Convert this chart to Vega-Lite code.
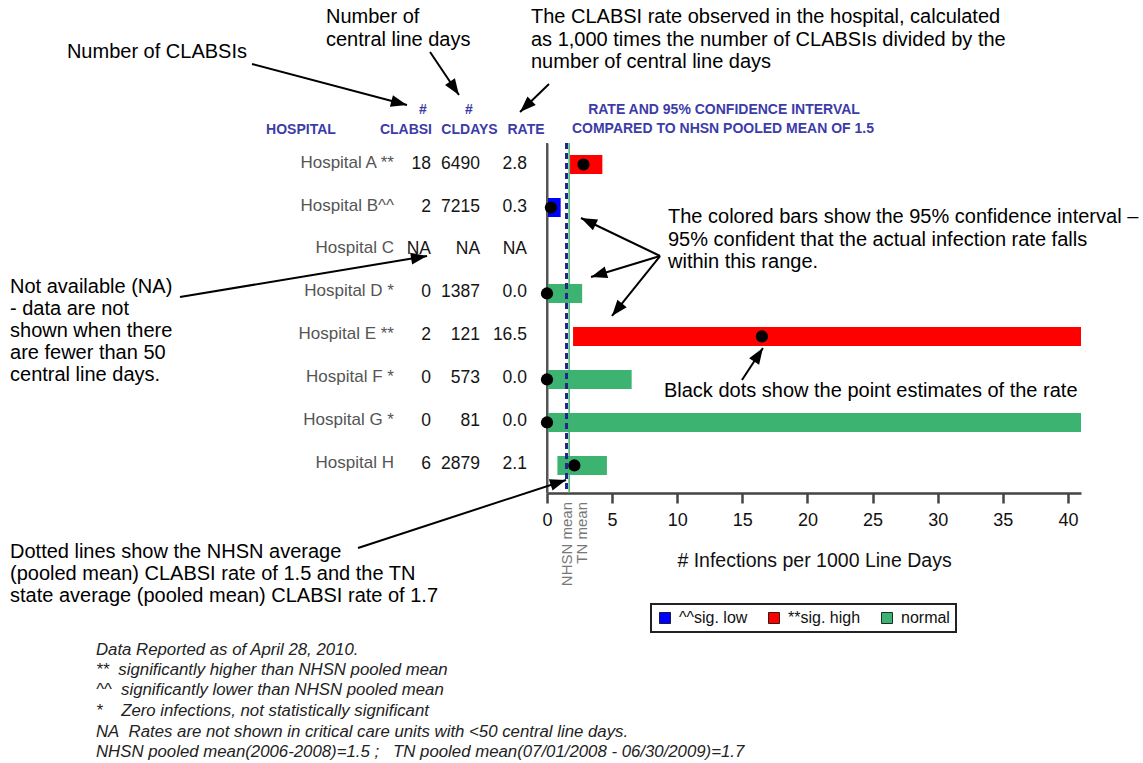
{
  "$schema": "https://vega.github.io/schema/vega-lite/v6.json",
  "autosize": "none",
  "width": 534,
  "height": 350,
  "padding": {"left": 547, "top": 143, "right": 62, "bottom": 270},
  "background": "white",
  "config": {"view": {"stroke": null}, "font": "Liberation Sans", "legend": {"strokeWidth": 2}},
  "resolve": {"axis": {"x": "independent", "y": "independent"}},
  "datasets": {
    "hospitals": [
      {"row": 1, "hospital": "Hospital A **", "clabsi": "18", "cldays": "6490", "rate": "2.8", "rateVal": 2.8, "lo": 1.77, "hi": 4.25, "status": "**sig. high"},
      {"row": 2, "hospital": "Hospital B^^", "clabsi": "2", "cldays": "7215", "rate": "0.3", "rateVal": 0.3, "lo": 0.04, "hi": 1.05, "status": "^^sig. low"},
      {"row": 3, "hospital": "Hospital C", "clabsi": "NA", "cldays": "NA", "rate": "NA", "rateVal": null, "lo": null, "hi": null, "status": null},
      {"row": 4, "hospital": "Hospital D *", "clabsi": "0", "cldays": "1387", "rate": "0.0", "rateVal": 0, "lo": 0, "hi": 2.7, "status": "normal"},
      {"row": 5, "hospital": "Hospital E **", "clabsi": "2", "cldays": "121", "rate": "16.5", "rateVal": 16.5, "lo": 2.0, "hi": 59.7, "status": "**sig. high"},
      {"row": 6, "hospital": "Hospital F *", "clabsi": "0", "cldays": "573", "rate": "0.0", "rateVal": 0, "lo": 0, "hi": 6.5, "status": "normal"},
      {"row": 7, "hospital": "Hospital G *", "clabsi": "0", "cldays": "81", "rate": "0.0", "rateVal": 0, "lo": 0, "hi": 45.5, "status": "normal"},
      {"row": 8, "hospital": "Hospital H", "clabsi": "6", "cldays": "2879", "rate": "2.1", "rateVal": 2.1, "lo": 0.8, "hi": 4.6, "status": "normal"}
    ],
    "refs": [
      {"name": "NHSN mean", "value": 1.5},
      {"name": "TN mean", "value": 1.7}
    ],
    "headers": [
      {"text": "HOSPITAL", "x": -18.89, "y": 0.198},
      {"text": "#", "x": -9.52, "y": -0.267},
      {"text": "CLABSI", "x": -10.83, "y": 0.198},
      {"text": "#", "x": -5.99, "y": -0.267},
      {"text": "CLDAYS", "x": -5.95, "y": 0.198},
      {"text": "RATE", "x": -1.61, "y": 0.198},
      {"text": "RATE AND 95% CONFIDENCE INTERVAL", "x": 13.59, "y": -0.267},
      {"text": "COMPARED TO NHSN POOLED MEAN OF 1.5", "x": 13.51, "y": 0.174}
    ],
    "notes": [
      {"text": "Number of CLABSIs", "x": -36.86, "y": -1.616},
      {"text": "Number of", "x": -16.97, "y": -2.43},
      {"text": "central line days", "x": -16.97, "y": -1.895},
      {"text": "The CLABSI rate observed in the hospital, calculated", "x": -1.23, "y": -2.43},
      {"text": "as 1,000 times the number of CLABSIs divided by the", "x": -1.23, "y": -1.895},
      {"text": "number of central line days", "x": -1.23, "y": -1.384},
      {"text": "The colored bars show the 95% confidence interval –", "x": 9.29, "y": 2.221},
      {"text": "95% confident that the actual infection rate falls", "x": 9.29, "y": 2.756},
      {"text": "within this range.", "x": 9.29, "y": 3.267},
      {"text": "Not available (NA)", "x": -41.23, "y": 3.849},
      {"text": "- data are not", "x": -41.23, "y": 4.36},
      {"text": "shown when there", "x": -41.23, "y": 4.872},
      {"text": "are fewer than 50", "x": -41.23, "y": 5.384},
      {"text": "central line days.", "x": -41.23, "y": 5.895},
      {"text": "Black dots show the point estimates of the rate", "x": 8.98, "y": 6.267},
      {"text": "Dotted lines show the NHSN average", "x": -41.23, "y": 10.012},
      {"text": "(pooled mean) CLABSI rate of 1.5 and the TN", "x": -41.23, "y": 10.523},
      {"text": "state average (pooled mean) CLABSI rate of 1.7", "x": -41.23, "y": 11.035}
    ],
    "arrows": [
      {"x1": -22.65, "y1": -1.337, "x2": -10.75, "y2": -0.384},
      {"x1": -8.98, "y1": -1.616, "x2": -6.76, "y2": -0.616},
      {"x1": 0.154, "y1": -0.872, "x2": -2.07, "y2": -0.221},
      {"x1": 8.68, "y1": 3.128, "x2": 2.61, "y2": 2.244},
      {"x1": 8.68, "y1": 3.128, "x2": 3.38, "y2": 3.616},
      {"x1": 8.68, "y1": 3.128, "x2": 4.99, "y2": 4.523},
      {"x1": -28.18, "y1": 4.081, "x2": -9.21, "y2": 3.128},
      {"x1": 14.97, "y1": 6.012, "x2": 16.58, "y2": 5.267},
      {"x1": -14.51, "y1": 9.919, "x2": 1.46, "y2": 8.337}
    ],
    "footnotes": [
      {"text": "Data Reported as of April 28, 2010.", "x": -34.63, "y": 12.291},
      {"text": "**\u00a0\u00a0significantly higher than NHSN pooled mean", "x": -34.63, "y": 12.756},
      {"text": "^^\u00a0\u00a0significantly lower than NHSN pooled mean", "x": -34.63, "y": 13.221},
      {"text": "*\u00a0\u00a0\u00a0\u00a0Zero infections, not statistically significant", "x": -34.63, "y": 13.709},
      {"text": "NA\u00a0\u00a0Rates are not shown in critical care units with <50 central line days.", "x": -34.63, "y": 14.198},
      {"text": "NHSN pooled mean(2006-2008)=1.5 ;\u00a0\u00a0\u00a0TN pooled mean(07/01/2008 - 06/30/2009)=1.7", "x": -34.63, "y": 14.663}
    ]
  },
  "layer": [
    {
      "data": {"name": "hospitals"},
      "transform": [{"filter": "datum.lo != null"}],
      "mark": {"type": "bar", "orient": "horizontal", "size": 19, "clip": true},
      "encoding": {
        "y": {"field": "row", "type": "quantitative",
          "scale": {"domain": [0.616, 8.524], "reverse": true, "nice": false, "zero": false},
          "axis": {"labels": false, "ticks": false, "grid": false, "title": null, "domainColor": "#555", "domainWidth": 2}},
        "x": {"field": "lo", "type": "quantitative",
          "scale": {"domain": [0, 41], "nice": false, "zero": false},
          "axis": {"values": [0, 5, 10, 15, 20, 25, 30, 35, 40], "grid": false, "domainColor": "#444", "domainWidth": 2.5,
            "tickColor": "#444", "tickWidth": 2.5, "tickSize": 10, "labelFont": "Liberation Sans", "labelFontSize": 18,
            "labelColor": "#111", "labelPadding": 8, "labelFlush": false, "title": "# Infections per 1000 Line Days",
            "titleFont": "Liberation Sans", "titleFontSize": 19.5, "titleFontWeight": "normal", "titleColor": "#111", "titlePadding": 22}},
        "x2": {"field": "hi"},
        "color": {"field": "status", "type": "nominal",
          "scale": {"domain": ["^^sig. low", "**sig. high", "normal"], "range": ["#0000ff", "#ff0000", "#3cb371"]},
          "legend": {"orient": "none", "legendX": 104, "legendY": 461, "direction": "horizontal", "title": null,
            "symbolType": "square", "symbolSize": 121, "symbolStrokeColor": "#000", "symbolStrokeWidth": 0.8,
            "labelFont": "Liberation Sans", "labelFontSize": 16, "labelColor": "#111", "strokeColor": "#222",
            "padding": 6, "columnPadding": 18, "labelOffset": 6}}
      }
    },
    {
      "data": {"name": "refs"},
      "transform": [{"filter": "datum.name == 'NHSN mean'"}],
      "mark": {"type": "rule", "color": "#555", "strokeWidth": 2},
      "encoding": {"x": {"datum": 0, "type": "quantitative", "axis": null}}
    },
    {
      "data": {"name": "refs"},
      "transform": [{"filter": "datum.name == 'NHSN mean'"}],
      "mark": {"type": "rule", "color": "#23238c", "strokeWidth": 3, "strokeDash": [6, 4]},
      "encoding": {"x": {"field": "value", "type": "quantitative", "axis": null}}
    },
    {
      "data": {"name": "refs"},
      "transform": [{"filter": "datum.name == 'TN mean'"}],
      "mark": {"type": "rule", "color": "#3cb371", "strokeWidth": 1.5},
      "encoding": {"x": {"field": "value", "type": "quantitative", "axis": null}}
    },
    {
      "data": {"name": "hospitals"},
      "transform": [{"filter": "datum.rateVal != null"}],
      "mark": {"type": "point", "filled": true, "color": "#000", "opacity": 1, "size": 150, "clip": false},
      "encoding": {
        "x": {"field": "rateVal", "type": "quantitative", "axis": null},
        "y": {"field": "row", "type": "quantitative", "axis": null}
      }
    },
    {
      "data": {"name": "refs"},
      "transform": [{"filter": "datum.name == 'NHSN mean'"}],
      "mark": {"type": "text", "angle": 270, "align": "right", "baseline": "middle", "fontSize": 15, "color": "#777", "clip": false},
      "encoding": {
        "x": {"field": "value", "type": "quantitative", "axis": null},
        "y": {"datum": 8.849, "type": "quantitative", "axis": null},
        "text": {"field": "name"}
      }
    },
    {
      "data": {"name": "refs"},
      "transform": [{"filter": "datum.name == 'TN mean'"}],
      "mark": {"type": "text", "angle": 270, "align": "right", "baseline": "middle", "fontSize": 15, "color": "#777", "dy": 13, "clip": false},
      "encoding": {
        "x": {"field": "value", "type": "quantitative", "axis": null},
        "y": {"datum": 8.849, "type": "quantitative", "axis": null},
        "text": {"field": "name"}
      }
    },
    {
      "data": {"name": "hospitals"},
      "mark": {"type": "text", "align": "right", "baseline": "middle", "font": "Liberation Sans", "fontSize": 17, "color": "#555", "dy": -2, "clip": false},
      "encoding": {
        "x": {"datum": -11.75, "type": "quantitative", "axis": null},
        "y": {"field": "row", "type": "quantitative", "axis": null},
        "text": {"field": "hospital"}
      }
    },
    {
      "data": {"name": "hospitals"},
      "mark": {"type": "text", "align": "right", "baseline": "middle", "font": "Liberation Sans", "fontSize": 17.5, "color": "#151515", "dy": -1, "clip": false},
      "encoding": {
        "x": {"datum": -8.91, "type": "quantitative", "axis": null},
        "y": {"field": "row", "type": "quantitative", "axis": null},
        "text": {"field": "clabsi"}
      }
    },
    {
      "data": {"name": "hospitals"},
      "mark": {"type": "text", "align": "right", "baseline": "middle", "font": "Liberation Sans", "fontSize": 17.5, "color": "#151515", "dy": -1, "clip": false},
      "encoding": {
        "x": {"datum": -5.14, "type": "quantitative", "axis": null},
        "y": {"field": "row", "type": "quantitative", "axis": null},
        "text": {"field": "cldays"}
      }
    },
    {
      "data": {"name": "hospitals"},
      "mark": {"type": "text", "align": "right", "baseline": "middle", "font": "Liberation Sans", "fontSize": 17.5, "color": "#151515", "dy": -1, "clip": false},
      "encoding": {
        "x": {"datum": -1.54, "type": "quantitative", "axis": null},
        "y": {"field": "row", "type": "quantitative", "axis": null},
        "text": {"field": "rate"}
      }
    },
    {
      "data": {"name": "headers"},
      "mark": {"type": "text", "align": "center", "baseline": "middle", "font": "Liberation Sans", "fontSize": 14, "fontWeight": "bold", "color": "#3c3ca8", "clip": false},
      "encoding": {
        "x": {"field": "x", "type": "quantitative", "axis": null},
        "y": {"field": "y", "type": "quantitative", "axis": null},
        "text": {"field": "text"}
      }
    },
    {
      "data": {"name": "notes"},
      "mark": {"type": "text", "align": "left", "baseline": "middle", "font": "Liberation Sans", "fontSize": 20, "color": "#000", "clip": false},
      "encoding": {
        "x": {"field": "x", "type": "quantitative", "axis": null},
        "y": {"field": "y", "type": "quantitative", "axis": null},
        "text": {"field": "text"}
      }
    },
    {
      "data": {"name": "arrows"},
      "mark": {"type": "rule", "color": "#000", "strokeWidth": 2, "clip": false},
      "encoding": {
        "x": {"field": "x1", "type": "quantitative", "axis": null},
        "y": {"field": "y1", "type": "quantitative", "axis": null},
        "x2": {"field": "x2"},
        "y2": {"field": "y2"}
      }
    },
    {
      "data": {"name": "arrows"},
      "transform": [{"calculate": "atan2((datum.x2 - datum.x1) * 13.024, -(datum.y2 - datum.y1) * 43) * 180 / PI", "as": "heading"}],
      "mark": {"type": "point", "shape": "M0,0L-0.85,2.3L0.85,2.3Z", "filled": true, "color": "#000", "opacity": 1, "size": 196, "clip": false},
      "encoding": {
        "x": {"field": "x2", "type": "quantitative", "axis": null},
        "y": {"field": "y2", "type": "quantitative", "axis": null},
        "angle": {"field": "heading", "type": "quantitative", "scale": null}
      }
    },
    {
      "data": {"name": "footnotes"},
      "mark": {"type": "text", "align": "left", "baseline": "middle", "font": "Liberation Sans", "fontSize": 16.8, "fontStyle": "italic", "color": "#222", "clip": false},
      "encoding": {
        "x": {"field": "x", "type": "quantitative", "axis": null},
        "y": {"field": "y", "type": "quantitative", "axis": null},
        "text": {"field": "text"}
      }
    }
  ]
}
